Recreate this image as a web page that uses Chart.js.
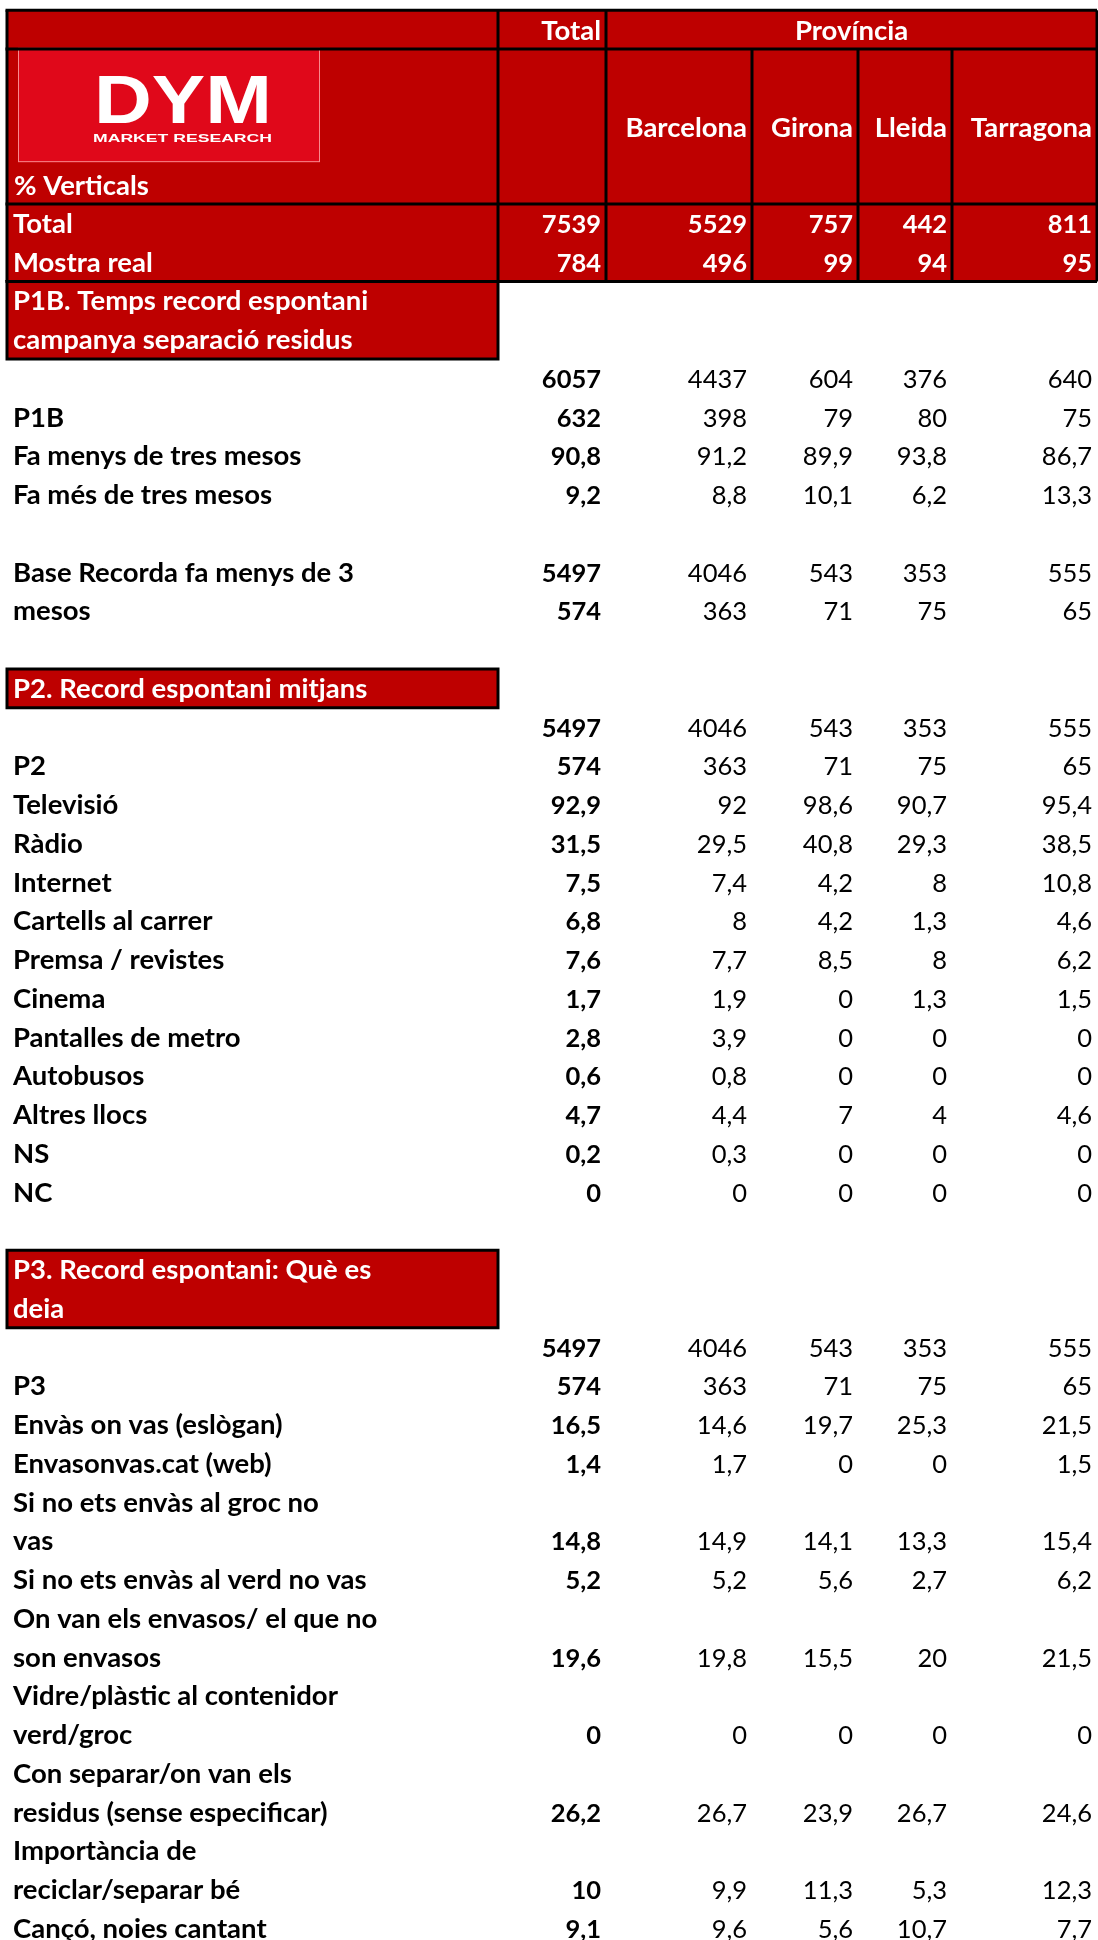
<!DOCTYPE html>
<html lang="ca">
<head>
<meta charset="utf-8">
<title>% Verticals — Província</title>
<script src="https://cdn.jsdelivr.net/npm/chart.js@4.4.1/dist/chart.umd.min.js"></script>
<style>
  html, body { margin: 0; padding: 0; background: #fff; }
  #wrap { width: 1098px; height: 1940px; }
</style>
</head>
<body>
<div id="wrap"><canvas id="taula" width="1098" height="1940"></canvas></div>
<script>
// --- data ---------------------------------------------------------------
const _ = null;
const spanTitle = 'Província';
const columns = ['Total', 'Barcelona', 'Girona', 'Lleida', 'Tarragona'];
const cornerLabel = '% Verticals';

// one entry per spreadsheet line, starting at the red "Total" line
const rowLabels = [
  'Total', 'Mostra real',
  'P1B. Temps record espontani', 'campanya separació residus',
  '', 'P1B', 'Fa menys de tres mesos', 'Fa més de tres mesos', '',
  'Base Recorda fa menys de 3', 'mesos', '',
  'P2. Record espontani mitjans',
  '', 'P2', 'Televisió', 'Ràdio', 'Internet', 'Cartells al carrer', 'Premsa / revistes',
  'Cinema', 'Pantalles de metro', 'Autobusos', 'Altres llocs', 'NS', 'NC', '',
  'P3. Record espontani: Què es', 'deia',
  '', 'P3', 'Envàs on vas (eslògan)', 'Envasonvas.cat (web)',
  'Si no ets envàs al groc no', 'vas', 'Si no ets envàs al verd no vas',
  'On van els envasos/ el que no', 'son envasos',
  'Vidre/plàstic al contenidor', 'verd/groc',
  'Con separar/on van els', 'residus (sense especificar)',
  'Importància de', 'reciclar/separar bé', 'Cançó, noies cantant'
];

const totalCol  = [7539, 784, _, _, 6057, 632, 90.8, 9.2, _, 5497, 574, _, _, 5497, 574, 92.9, 31.5, 7.5, 6.8, 7.6, 1.7, 2.8, 0.6, 4.7, 0.2, 0, _, _, _, 5497, 574, 16.5, 1.4, _, 14.8, 5.2, _, 19.6, _, 0, _, 26.2, _, 10, 9.1];
const barcelona = [5529, 496, _, _, 4437, 398, 91.2, 8.8, _, 4046, 363, _, _, 4046, 363, 92, 29.5, 7.4, 8, 7.7, 1.9, 3.9, 0.8, 4.4, 0.3, 0, _, _, _, 4046, 363, 14.6, 1.7, _, 14.9, 5.2, _, 19.8, _, 0, _, 26.7, _, 9.9, 9.6];
const girona    = [757, 99, _, _, 604, 79, 89.9, 10.1, _, 543, 71, _, _, 543, 71, 98.6, 40.8, 4.2, 4.2, 8.5, 0, 0, 0, 7, 0, 0, _, _, _, 543, 71, 19.7, 0, _, 14.1, 5.6, _, 15.5, _, 0, _, 23.9, _, 11.3, 5.6];
const lleida    = [442, 94, _, _, 376, 80, 93.8, 6.2, _, 353, 75, _, _, 353, 75, 90.7, 29.3, 8, 1.3, 8, 1.3, 0, 0, 4, 0, 0, _, _, _, 353, 75, 25.3, 0, _, 13.3, 2.7, _, 20, _, 0, _, 26.7, _, 5.3, 10.7];
const tarragona = [811, 95, _, _, 640, 75, 86.7, 13.3, _, 555, 65, _, _, 555, 65, 95.4, 38.5, 10.8, 4.6, 6.2, 1.5, 0, 0, 4.6, 0, 0, _, _, _, 555, 65, 21.5, 1.5, _, 15.4, 6.2, _, 21.5, _, 0, _, 24.6, _, 12.3, 7.7];

// --- layout (x in px units, y in spreadsheet lines) ----------------------
const colEdges = [7, 498, 606, 752, 858, 952, 1097];
const Y_MIN = -5.265, Y_MAX = 44.8;      // 38.75 px per line
const HEAD_TOP = -5, HEAD_MID = -4;       // header line, then 4-line logo row
const bandRows = [0, 2];                  // red Total / Mostra real lines
const titleBoxes = [[2, 4], [12, 13], [27, 29]];
const whiteRows = [0, 1, 2, 3, 12, 27, 28];
const RED = '#BE0000';
const LOGO_RED = '#E0081A';
const FONT = 'Lato, "Noto Sans", sans-serif';
const TEXT_SIZE = 27.5;
const NUM_SIZE = 25.5;

const fmt = v => String(v).replace('.', ',');
const valueCols = [totalCol, barcelona, girona, lleida, tarragona];

const datasets = [{
  label: 'labels',
  data: rowLabels.map((t, i) => ({ x: colEdges[0] + 6, y: i + 0.5, t })).filter(p => p.t),
  align: 'left',
  bold: true,
  size: TEXT_SIZE
}].concat(valueCols.map((vals, c) => ({
  label: columns[c],
  data: vals.map((v, i) => ({ x: colEdges[c + 2] - 5, y: i + 0.5, t: v == null ? '' : fmt(v) })).filter(p => p.t !== ''),
  align: 'right',
  bold: c === 0,
  size: NUM_SIZE
})));

function fitText(ctx, text, x0, x1, base, font) {
  ctx.font = font;
  const w = ctx.measureText(text).width;
  ctx.save();
  ctx.translate(x0, base);
  ctx.scale((x1 - x0) / w, 1);
  ctx.textAlign = 'left';
  ctx.fillText(text, 0, 0);
  ctx.restore();
}

const tablePlugin = {
  id: 'table',
  beforeDatasetsDraw(chart) {
    const { ctx, scales: { x, y } } = chart;
    const px = v => x.getPixelForValue(v);
    const py = v => y.getPixelForValue(v);
    const box = (x0, x1, y0, y1) => ctx.fillRect(px(x0), py(y0), px(x1) - px(x0), py(y1) - py(y0));
    ctx.save();
    ctx.fillStyle = RED;
    box(colEdges[0], colEdges[6], HEAD_TOP, bandRows[1]);
    titleBoxes.forEach(([a, b]) => box(colEdges[0], colEdges[1], a, b));

    // logo
    ctx.fillStyle = LOGO_RED;
    box(18, 320, -4.03, -1.08);
    ctx.strokeStyle = 'rgba(255,170,170,0.8)';
    ctx.lineWidth = 1;
    ctx.strokeRect(px(18) + 0.5, py(-4.03) + 0.5, px(320) - px(18) - 1, py(-1.08) - py(-4.03) - 1);
    ctx.fillStyle = '#fff';
    fitText(ctx, 'DYM', px(94), px(272), py(-2.09), 'bold 68px "Liberation Sans", Arial, sans-serif');
    fitText(ctx, 'MARKET RESEARCH', px(93), px(272), py(-1.60), 'bold 11px "Liberation Sans", Arial, sans-serif');

    // header texts
    ctx.font = `bold ${TEXT_SIZE}px ${FONT}`;
    ctx.textBaseline = 'alphabetic';
    ctx.textAlign = 'right';
    ctx.fillText(columns[0], px(colEdges[2]) - 5, py(HEAD_MID) - 9);
    ctx.textAlign = 'center';
    ctx.fillText(spanTitle, (px(colEdges[2]) + px(colEdges[6])) / 2, py(HEAD_MID) - 9);
    ctx.textAlign = 'right';
    for (let c = 1; c < columns.length; c++) {
      ctx.fillText(columns[c], px(colEdges[c + 2]) - 5, py(-2) + 10);
    }
    ctx.textAlign = 'left';
    ctx.fillText(cornerLabel, px(colEdges[0]) + 7, py(0) - 9);
    ctx.restore();
  },
  afterDatasetsDraw(chart) {
    const { ctx } = chart;
    ctx.save();
    ctx.textBaseline = 'alphabetic';
    chart.data.datasets.forEach((ds, di) => {
      const meta = chart.getDatasetMeta(di);
      ctx.textAlign = ds.align;
      meta.data.forEach((el, i) => {
        const row = ds.data[i].y - 0.5;
        const white = whiteRows.includes(row);
        ctx.fillStyle = white ? '#fff' : '#000';
        ctx.font = `${ds.bold || white ? 'bold ' : ''}${ds.size}px ${FONT}`;
        ctx.fillText(ds.data[i].t, el.x, el.y + 9.5);
      });
    });
    ctx.restore();
  },
  afterDraw(chart) {
    const { ctx, scales: { x, y } } = chart;
    const px = v => x.getPixelForValue(v);
    const py = v => y.getPixelForValue(v);
    ctx.save();
    ctx.strokeStyle = '#000';
    ctx.lineWidth = 3;
    const line = (x0, y0, x1, y1) => {
      ctx.beginPath();
      ctx.moveTo(px(x0), py(y0));
      ctx.lineTo(px(x1), py(y1));
      ctx.stroke();
    };
    const L = colEdges[0], R = colEdges[6];
    [HEAD_TOP, HEAD_MID, bandRows[0], bandRows[1]].forEach(r => line(L - 1.5, r, R, r));
    [0, 1, 2, 6].forEach(c => line(colEdges[c], HEAD_TOP, colEdges[c], bandRows[1]));
    [3, 4, 5].forEach(c => line(colEdges[c], HEAD_MID, colEdges[c], bandRows[1]));
    titleBoxes.forEach(([a, b]) => {
      ctx.strokeRect(px(L), py(a), px(colEdges[1]) - px(L), py(b) - py(a));
    });
    ctx.restore();
  }
};

new Chart(document.getElementById('taula'), {
  type: 'scatter',
  data: { datasets },
  options: {
    responsive: false,
    animation: false,
    devicePixelRatio: 1,
    events: [],
    layout: { padding: 0 },
    elements: { point: { radius: 0, hoverRadius: 0 } },
    plugins: { legend: { display: false }, tooltip: { enabled: false } },
    scales: {
      x: { type: 'linear', min: 0, max: 1098, display: false },
      y: { type: 'linear', min: Y_MIN, max: Y_MAX, reverse: true, display: false }
    }
  },
  plugins: [tablePlugin]
});
</script>
</body>
</html>
